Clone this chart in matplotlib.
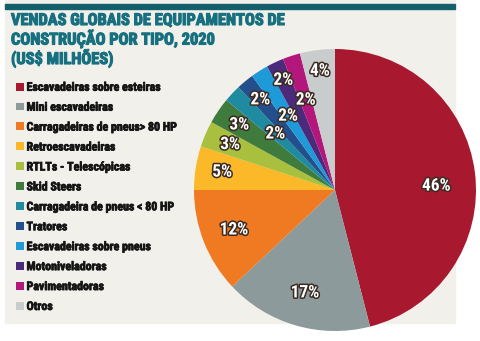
import matplotlib
matplotlib.use("Agg")
import matplotlib.pyplot as plt
import matplotlib.patheffects as pe
from matplotlib.patches import Rectangle
import numpy as np

# ── data ──────────────────────────────────────────────────────────────────────
categories = [
    "Escavadeiras sobre esteiras",
    "Mini escavadeiras",
    "Carragadeiras de pneus> 80 HP",
    "Retroescavadeiras",
    "RTLTs - Telescópicas",
    "Skid Steers",
    "Carragadeira de pneus < 80 HP",
    "Tratores",
    "Escavadeiras sobre pneus",
    "Motoniveladoras",
    "Pavimentadoras",
    "Otros",
]
shares = [46, 17, 12, 5, 3, 3, 2, 2, 2, 2, 2, 4]

colors = ["#a8182f", "#8d9a9b", "#f07a22", "#fbb829", "#a8c03d", "#3f7b3c",
          "#1f8ba0", "#234f8c", "#1f9ad8", "#4b2a7c", "#b3177c", "#c9cccd"]

# label radius (fraction of pie radius) per slice – small ones are staggered
label_r = [0.72, 0.76, 0.77, 0.81, 0.81, 0.82, 0.58, 0.83, 0.62, 0.86, 0.67, 0.85]

BG = "#f1f0eb"
TEAL = "#17707f"
BAR = "#145f6c"
COND = ["Roboto Condensed", "Liberation Sans Narrow", "DejaVu Sans"]

W, H = 480, 341
fig = plt.figure(figsize=(W / 100, H / 100), dpi=100)
fig.patch.set_facecolor("white")

# panel background + top bar
fig.patches.append(Rectangle((5 / W, 1 - 323 / H), 450 / W, 323 / H,
                             transform=fig.transFigure, color=BG, zorder=-2))
fig.patches.append(Rectangle((5 / W, 1 - 8.5 / H), 450 / W, 5 / H,
                             transform=fig.transFigure, color=BAR, zorder=-1))

# ── pie ───────────────────────────────────────────────────────────────────────
cx, cy, r = 335, 190, 141
ax = fig.add_axes([(cx - r) / W, 1 - (cy + r) / H, 2 * r / W, 2 * r / H])
wedges, _ = ax.pie(shares, colors=colors, startangle=90, counterclock=False,
                   radius=1, wedgeprops=dict(linewidth=0))
ax.set_xlim(-1, 1)
ax.set_ylim(-1, 1)
ax.set_aspect("equal")
ax.axis("off")

stroke = [pe.withStroke(linewidth=2.2, foreground="#3b2b22")]
for w, s, rr in zip(wedges, shares, label_r):
    ang = np.deg2rad((w.theta1 + w.theta2) / 2)
    if s == 46:
        ang -= np.deg2rad(5)
    ax.text(rr * np.cos(ang), rr * np.sin(ang), f"{s}%", ha="center", va="center",
            color="white", fontsize=12.5, fontweight="bold", family=COND,
            path_effects=stroke)

# ── title ─────────────────────────────────────────────────────────────────────
fig.text(11 / W, 1 - 13 / H,
         "VENDAS GLOBAIS DE EQUIPAMENTOS DE\nCONSTRUÇÃO POR TIPO, 2020\n(US$ MILHÕES)",
         ha="left", va="top", color=TEAL, fontsize=11.8, fontweight="bold",
         family=COND, linespacing=1.1,
         path_effects=[pe.withStroke(linewidth=0.8, foreground=TEAL)])

# ── legend ────────────────────────────────────────────────────────────────────
leg = fig.legend(wedges, categories, loc="upper left",
                 bbox_to_anchor=(11 / W, 1 - 76 / H), frameon=False,
                 prop=dict(family=COND, weight="bold", size=8.6),
                 handlelength=0.65, handleheight=0.65, handletextpad=0.25,
                 labelspacing=0.58, borderaxespad=0)
for t in leg.get_texts():
    t.set_color("#141414")
    t.set_path_effects([pe.withStroke(linewidth=0.5, foreground="#141414")])

fig.savefig("out.png", dpi=100, facecolor="white")
